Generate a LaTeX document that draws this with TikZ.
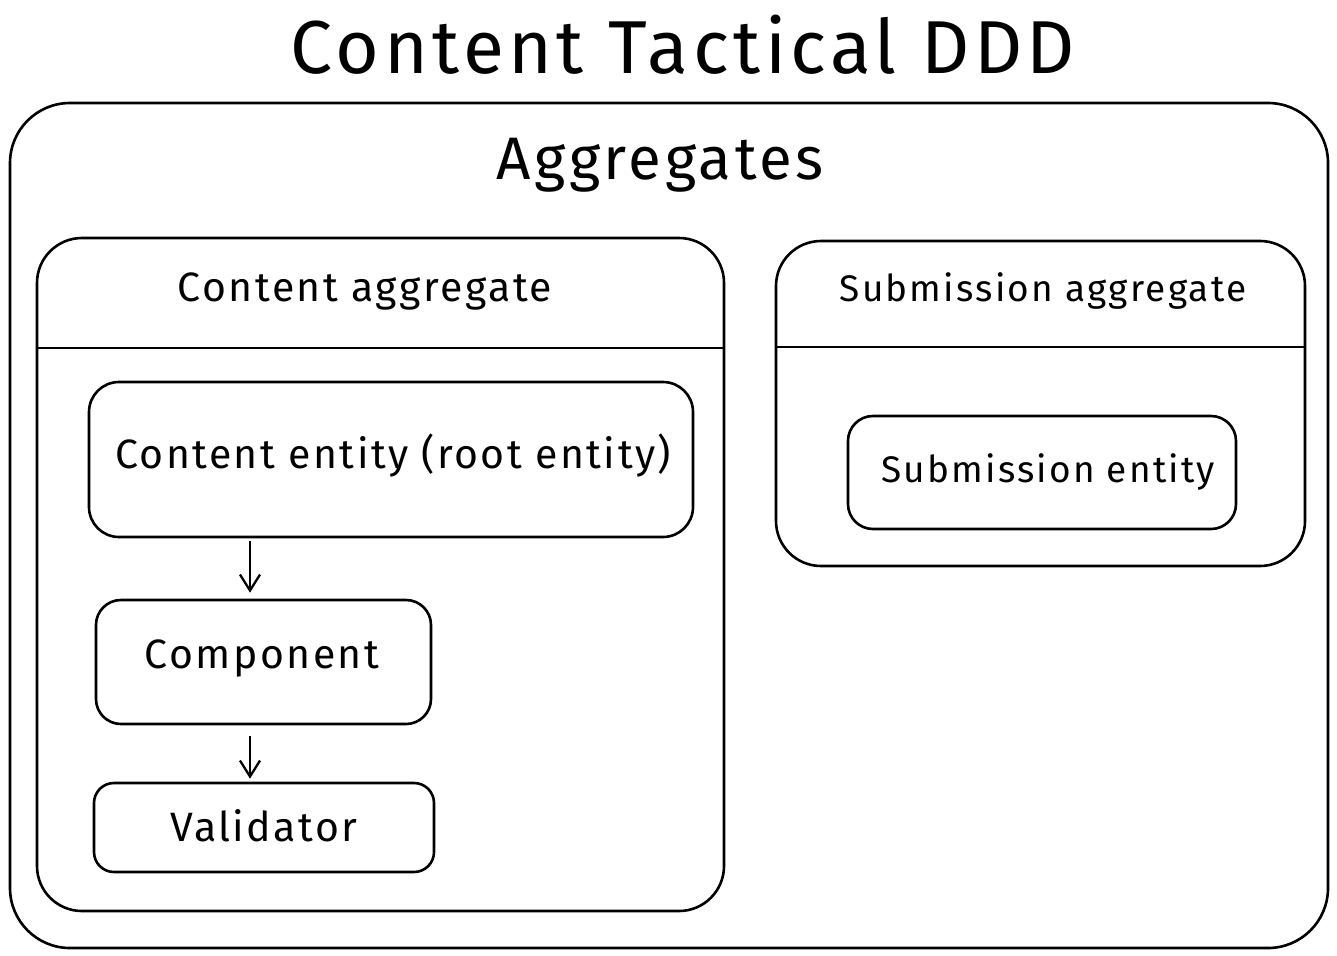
\documentclass[tikz,border=0pt]{standalone}
\usepackage{fontspec}
\setmainfont{Fira Sans}
\newfontfamily\widefont[LetterSpace=6]{Fira Sans}
\usetikzlibrary{arrows.meta}
\begin{document}
\begin{tikzpicture}[x=1pt,y=-1pt,
  box/.style={draw, line width=2.6pt, rounded corners=#1, inner sep=0pt},
  box/.default=30pt,
  lbl/.style={font=\widefont\fontsize{41}{46}\selectfont, inner sep=0pt},
  slbl/.style={font=\widefont\fontsize{37}{42}\selectfont, inner sep=0pt},
  arr/.style={line width=2.3pt, -{Straight Barb[length=16pt,width=20pt,line width=2.3pt]}}
]
\useasboundingbox (0,0) rectangle (1337,955);
\node[font=\widefont\fontsize{75}{84}\selectfont, inner sep=0pt] (title) at (683,45) {Content Tactical DDD};
\node[box=60pt, minimum width=1318pt, minimum height=845pt] (outer) at (669,525.5) {};
\node[font=\widefont\fontsize{60}{66}\selectfont, inner sep=0pt] (aggr) at (660,165) {Aggregates};
% content aggregate
\node[box=45pt, minimum width=687pt, minimum height=673pt] (cagg) at (380.5,574.5) {};
\coordinate (cdiv) at (0,348);
\draw[line width=2.6pt] (cagg.west |- cdiv) -- (cagg.east |- cdiv);
\node[lbl] (cagglbl) at (365,291) {Content aggregate};
\node[box=30pt, minimum width=604pt, minimum height=155pt] (ent) at (391,459.5) {};
\node[lbl] (entlbl) at (393,456) {Content entity (root entity)};
\node[box=25pt, minimum width=335pt, minimum height=124pt] (comp) at (263.5,662) {};
\node[lbl] (complbl) at (262,658) {Component};
\node[box=20pt, minimum width=340pt, minimum height=89pt] (val) at (264,827.5) {};
\node[lbl] (vallbl) at (264,826) {Validator};
\coordinate (ax) at (250,0);
\draw[arr, shorten <=3pt, shorten >=6pt] (ent.south -| ax) -- (comp.north -| ax);
\draw[arr, shorten <=11pt, shorten >=3pt] (comp.south -| ax) -- (val.north -| ax);
% submission aggregate
\node[box=45pt, minimum width=529pt, minimum height=325pt] (sagg) at (1040.5,403.5) {};
\coordinate (sdiv) at (0,347);
\draw[line width=2.6pt] (sagg.west |- sdiv) -- (sagg.east |- sdiv);
\node[slbl] (sagglbl) at (1043,291) {Submission aggregate};
\node[box=25pt, minimum width=388pt, minimum height=113pt] (sent) at (1042,472.5) {};
\node[slbl] (sentlbl) at (1048,472) {Submission entity};
\end{tikzpicture}
\end{document}
